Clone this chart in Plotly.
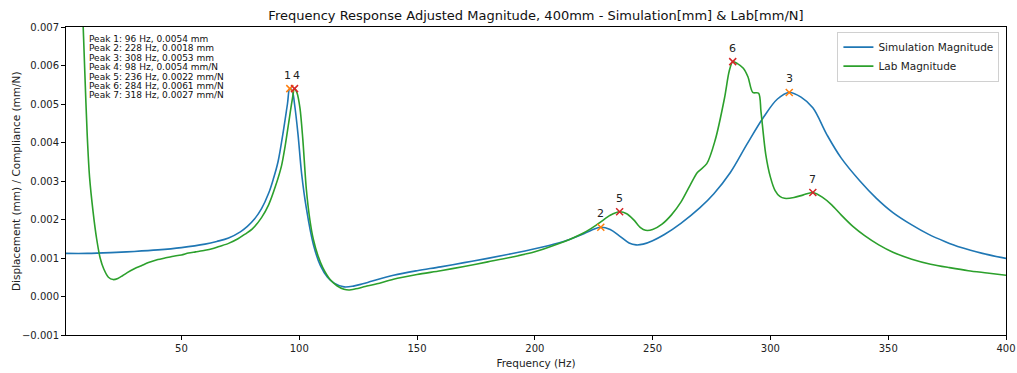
import plotly.graph_objects as go

# ---------------- data ----------------
sim_freq = [1, 10, 20, 30, 40, 50, 60, 65, 70, 75, 78, 81, 84, 87, 89, 91, 93, 95, 96, 97, 98, 99.5,
            101, 103, 106, 109, 112, 115, 119, 123, 127, 131, 140, 150, 160, 170, 180, 190,
            200, 210, 215, 220, 224, 228, 232, 236, 240, 243, 246, 250, 255, 262, 270, 276,
            283, 290, 297, 303, 308, 313, 318, 324, 330, 338, 345, 352, 360, 367, 374, 381, 390, 400]
sim_mag = [0.00112, 0.00112, 0.00114, 0.00117, 0.00121, 0.00127, 0.00136, 0.00143, 0.00152,
           0.00168, 0.00182, 0.00201, 0.00228, 0.00268, 0.00305, 0.00350, 0.00420, 0.00500,
           0.00540, 0.00535, 0.00500, 0.00420, 0.00320, 0.00230, 0.00135, 0.00080, 0.00050,
           0.00034, 0.00025, 0.00027, 0.00033, 0.00040, 0.00055, 0.00067, 0.00077, 0.00088,
           0.00099, 0.00111, 0.00124, 0.00139, 0.00149, 0.00161, 0.00172, 0.00180, 0.00174,
           0.00157, 0.00139, 0.00134, 0.00136, 0.00145, 0.00161, 0.00190, 0.00230, 0.00267,
           0.00322, 0.00395, 0.00465, 0.00513, 0.00530, 0.00518, 0.00490, 0.00420, 0.00360,
           0.00300, 0.00255, 0.00218, 0.00186, 0.00162, 0.00143, 0.00127, 0.00112, 0.00099]

lab_freq = [6, 8, 9, 10, 11, 12.5, 14, 15.5, 17, 19, 21, 23, 25, 27, 30, 33, 36, 40, 43, 46,
            50, 53, 56, 60, 63, 66, 70, 74, 77, 80, 84, 87, 90, 92.5, 94, 95.5, 97, 98, 99,
            100.3, 101.5, 103, 104.5, 106, 108, 110, 113, 116, 119, 121, 124, 128, 133, 140,
            150, 160, 170, 180, 190, 200, 210, 215, 220, 224, 228, 232, 236, 239, 242, 245,
            247, 250, 254, 258, 262, 266, 269, 273, 276.5, 280.5, 282.5, 284, 286, 288.5,
            290.5, 292.5, 295, 296, 298, 300, 302, 304, 306, 310, 314, 318, 322, 326, 330,
            335, 340, 346, 352, 360, 368, 376, 384, 392, 400]
lab_mag = [0.01050, 0.00750, 0.00580, 0.00420, 0.00310, 0.00220, 0.00150, 0.00100, 0.00072,
           0.00050, 0.00044, 0.00047, 0.00054, 0.00062, 0.00072, 0.00080, 0.00088, 0.00096,
           0.00100, 0.00104, 0.00108, 0.00113, 0.00116, 0.00120, 0.00124, 0.00130, 0.00138,
           0.00150, 0.00162, 0.00175, 0.00205, 0.00238, 0.00288, 0.00340, 0.00390, 0.00450,
           0.00510, 0.00540, 0.00530, 0.00490, 0.00410, 0.00280, 0.00200, 0.00148, 0.00105,
           0.00075, 0.00045, 0.00028, 0.00019, 0.00017, 0.00020, 0.00026, 0.00033, 0.00045,
           0.00057, 0.00067, 0.00078, 0.00090, 0.00102, 0.00116, 0.00137, 0.00149, 0.00163,
           0.00177, 0.00194, 0.00211, 0.00220, 0.00215, 0.00199, 0.00178, 0.00172, 0.00174,
           0.00188, 0.00212, 0.00245, 0.00290, 0.00322, 0.00345, 0.00405, 0.00515, 0.00585,
           0.00610, 0.00605, 0.00593, 0.00570, 0.00530, 0.00528, 0.00480, 0.00370, 0.00310,
           0.00275, 0.00260, 0.00255, 0.00257, 0.00264, 0.00270, 0.00258, 0.00238, 0.00212,
           0.00182, 0.00158, 0.00134, 0.00115, 0.00097, 0.00084, 0.00075, 0.00067, 0.00061,
           0.00055]

peak_ids = [1, 2, 3, 4, 5, 6, 7]
peak_freq = [96, 228, 308, 98, 236, 284, 318]
peak_val = [0.0054, 0.0018, 0.0053, 0.0054, 0.0022, 0.0061, 0.0027]
peak_unit = ["mm", "mm", "mm", "mm/N", "mm/N", "mm/N", "mm/N"]
peak_source = ["sim", "sim", "sim", "lab", "lab", "lab", "lab"]

x_ticks = [50, 100, 150, 200, 250, 300, 350, 400]
y_ticks = [-0.001, 0.0, 0.001, 0.002, 0.003, 0.004, 0.005, 0.006, 0.007]

# ---------------- figure ----------------
W, H = 1017, 373
ML, MR, MT, MB = 66, 11, 27, 38
FONT = "DejaVu Sans"
BLUE, GREEN, ORANGE, RED = "#1f77b4", "#2ca02c", "#ff7f0e", "#d62728"

fig = go.Figure()
fig.add_trace(go.Scatter(x=sim_freq, y=sim_mag, mode="lines", name="Simulation Magnitude",
                         line=dict(color=BLUE, width=1.6, shape="spline", smoothing=1.0)))
fig.add_trace(go.Scatter(x=lab_freq, y=lab_mag, mode="lines", name="Lab Magnitude",
                         line=dict(color=GREEN, width=1.6, shape="spline", smoothing=0.8)))

for src, col in (("sim", ORANGE), ("lab", RED)):
    xs = [f for f, s in zip(peak_freq, peak_source) if s == src]
    ys = [v for v, s in zip(peak_val, peak_source) if s == src]
    fig.add_trace(go.Scatter(x=xs, y=ys, mode="markers", showlegend=False,
                             marker=dict(symbol="x-thin", size=7, line=dict(color=col, width=1.5))))

# small horizontal nudges keep the adjacent labels "1" and "4" readable
label_nudge = {1: -2, 4: 2}
annotations = []
for pid, f, v in zip(peak_ids, peak_freq, peak_val):
    annotations.append(dict(x=f, y=v, xref="x", yref="y", text=str(pid), showarrow=False,
                            yanchor="bottom", yshift=5, xshift=label_nudge.get(pid, 0),
                            font=dict(family=FONT, size=11, color="#222")))

plot_h = H - MT - MB
plot_w = W - ML - MR
for i, (pid, f, v, u) in enumerate(zip(peak_ids, peak_freq, peak_val, peak_unit)):
    ypx = 39 + i * 9.4
    annotations.append(dict(x=(87 - ML) / plot_w, y=(H - MB - ypx) / plot_h,
                            xref="paper", yref="paper", xanchor="left", yanchor="middle",
                            text=f"Peak {pid}: {f} Hz, {v:.4f} {u}", showarrow=False,
                            font=dict(family=FONT, size=9, color="#111")))

annotations.append(dict(x=(16 - ML) / plot_w, y=0.5, xref="paper", yref="paper",
                        text="Displacement (mm) / Compliance (mm/N)",
                        showarrow=False, textangle=-90, xanchor="center", yanchor="middle",
                        font=dict(family=FONT, size=10.5, color="#222")))

fig.update_layout(
    width=W, height=H,
    margin=dict(l=ML, r=MR, t=MT, b=MB, autoexpand=False),
    paper_bgcolor="white", plot_bgcolor="white",
    font=dict(family=FONT, size=10.5, color="#222"),
    title=dict(text="Frequency Response Adjusted Magnitude, 400mm - Simulation[mm] & Lab[mm/N]",
               x=(ML + plot_w / 2) / W, xanchor="center", y=1 - 15 / H, yanchor="middle",
               font=dict(family=FONT, size=13, color="#111")),
    legend=dict(x=0.993, y=0.985, xanchor="right", yanchor="top", bgcolor="rgba(255,255,255,0.8)",
                bordercolor="#d0d0d0", borderwidth=1, font=dict(family=FONT, size=10.5),
                itemwidth=30, tracegroupgap=0),
    annotations=annotations,
    showlegend=True,
)
fig.update_xaxes(range=[1, 400], tickvals=x_ticks, ticktext=[str(t) for t in x_ticks],
                 automargin=False, tickfont=dict(size=10),
                 showgrid=False, zeroline=False, showline=True, linecolor="black", linewidth=1,
                 mirror=True, ticks="outside", ticklen=4, tickcolor="black",
                 title=dict(text="Frequency (Hz)", standoff=6, font=dict(family=FONT, size=10.5)))
fig.update_yaxes(range=[-0.001, 0.007], tickvals=y_ticks,
                 ticktext=[("\u2212" if t < 0 else "") + f"{abs(t):.3f}" for t in y_ticks],
                 automargin=False, tickfont=dict(size=10),
                 showgrid=False, zeroline=False, showline=True, linecolor="black", linewidth=1,
                 mirror=True, ticks="outside", ticklen=4, tickcolor="black")

fig.write_html("out.html")
